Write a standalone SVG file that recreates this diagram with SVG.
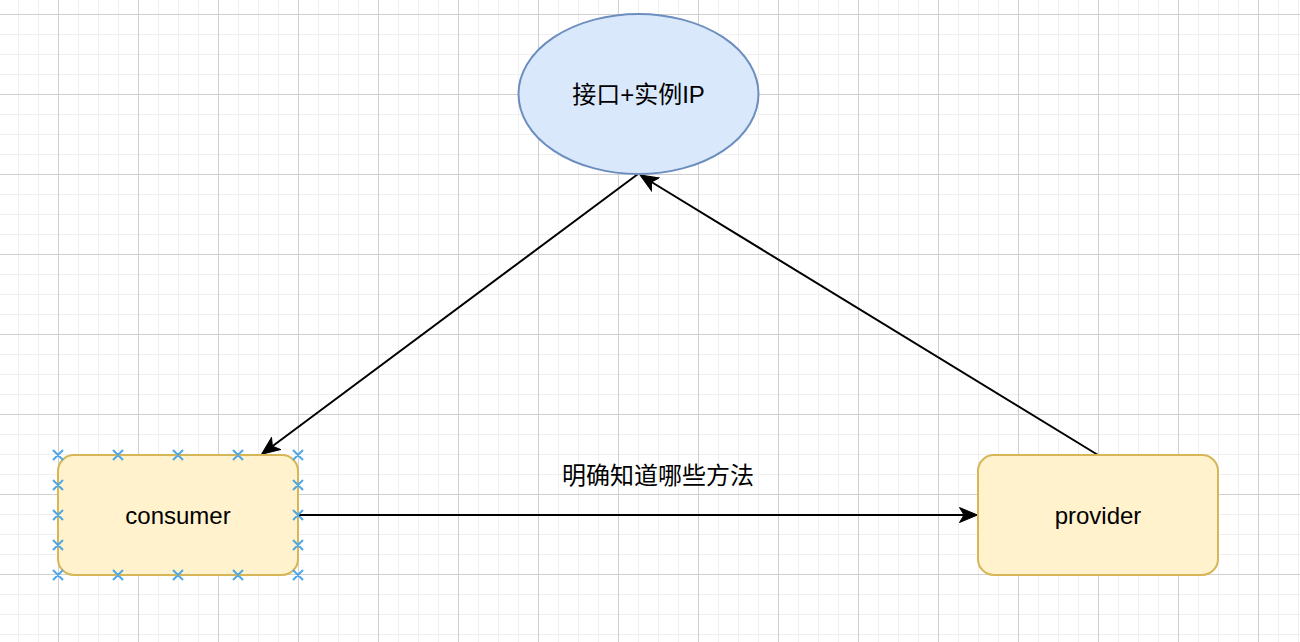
<svg xmlns="http://www.w3.org/2000/svg" width="1300" height="642" viewBox="0 0 1300 642">
  <defs>
    <pattern id="grid" patternUnits="userSpaceOnUse" x="-22" y="14" width="80" height="80">
      <rect width="80" height="80" fill="#ffffff"/>
      <path d="M20.5,0V80M40.5,0V80M60.5,0V80M0,20.5H80M0,40.5H80M0,60.5H80" stroke="#f0f0f0" stroke-width="1" fill="none"/>
      <path d="M0.5,0V80M0,0.5H80" stroke="#d0d0d0" stroke-width="1" fill="none"/>
    </pattern>
    <marker id="arr" markerUnits="userSpaceOnUse" markerWidth="22" markerHeight="18" viewBox="-5 -9 22 18" refX="0" refY="0" orient="auto">
      <path d="M13.5,0 L-4.5,-7.5 L0,0 L-4.5,7.5 Z" fill="#000000" stroke="#000000" stroke-width="1"/>
    </marker>
  </defs>
  <style>
    .node-rect { fill: #fff2cc; stroke: #d6b656; stroke-width: 2; }
    .node-ell { fill: #dae8fc; stroke: #6c8ebf; stroke-width: 2; }
    .label { font-family: "Liberation Sans", "Noto Sans CJK SC", sans-serif; font-size: 24px; fill: #000000; text-anchor: middle; }
    .edge { stroke: #000000; stroke-width: 2; fill: none; }
    .pt { stroke: #4fa7e8; stroke-width: 2; fill: none; }
  </style>
  <rect x="0" y="0" width="1300" height="642" fill="url(#grid)"/>

  <g id="connectors">
    <path class="edge" d="M638,174 L272.4,446.2" marker-end="url(#arr)"/>
    <path class="edge" d="M1098,455 L651.5,182" marker-end="url(#arr)"/>
    <path class="edge" d="M298,515 L964,515" marker-end="url(#arr)"/>
    <text class="label" x="658" y="484">明确知道哪些方法</text>
  </g>

  <g id="node-registry">
    <ellipse class="node-ell" cx="638.5" cy="94" rx="120" ry="80"/>
    <text class="label" x="638.5" y="103">接口+实例IP</text>
  </g>

  <g id="node-consumer">
    <rect class="node-rect" x="58" y="455" width="240" height="120" rx="16" ry="16"/>
    <text class="label" x="178" y="524">consumer</text>
    <path class="pt" d="M53,450l10,10m0,-10l-10,10 M113,450l10,10m0,-10l-10,10 M173,450l10,10m0,-10l-10,10 M233,450l10,10m0,-10l-10,10 M293,450l10,10m0,-10l-10,10
      M53,570l10,10m0,-10l-10,10 M113,570l10,10m0,-10l-10,10 M173,570l10,10m0,-10l-10,10 M233,570l10,10m0,-10l-10,10 M293,570l10,10m0,-10l-10,10
      M53,480l10,10m0,-10l-10,10 M53,510l10,10m0,-10l-10,10 M53,540l10,10m0,-10l-10,10
      M293,480l10,10m0,-10l-10,10 M293,510l10,10m0,-10l-10,10 M293,540l10,10m0,-10l-10,10"/>
  </g>

  <g id="node-provider">
    <rect class="node-rect" x="978" y="455" width="240" height="120" rx="16" ry="16"/>
    <text class="label" x="1098" y="524">provider</text>
  </g>
</svg>
